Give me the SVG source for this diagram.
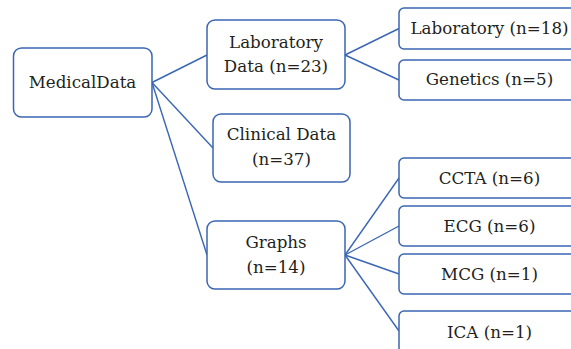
<svg xmlns="http://www.w3.org/2000/svg" width="571" height="349" viewBox="0 0 571 349">
<style>
.box{fill:#fff;stroke:#3a66b3;stroke-width:1.5}
.c{stroke:#3a66b3;stroke-width:1.4;fill:none}
</style>
<rect width="571" height="349" fill="#fff"/>
<g id="connectors">
<line class="c" x1="152" y1="82.5" x2="207" y2="55"/>
<line class="c" x1="152" y1="82.5" x2="213" y2="148"/>
<line class="c" x1="152" y1="82.5" x2="207" y2="255"/>
<line class="c" x1="345" y1="55" x2="399" y2="28.5"/>
<line class="c" x1="345" y1="55" x2="399" y2="80"/>
<line class="c" x1="345" y1="255" x2="399" y2="178"/>
<line class="c" x1="345" y1="255" x2="399" y2="226"/>
<line class="c" x1="345" y1="255" x2="399" y2="274"/>
<line class="c" x1="345" y1="255" x2="399" y2="331"/>
</g>
<g font-family="DejaVu Serif, serif" font-size="16.7" fill="#231f20" text-anchor="middle">
<g id="medicaldata">
<rect class="box" x="13.5" y="48" width="138.5" height="69" rx="8"/>
<text x="82.5" y="88">MedicalData</text>
</g>
<g id="laboratorydata">
<rect class="box" x="207" y="20" width="138" height="69" rx="8"/>
<text x="276" y="48">Laboratory</text>
<text x="276" y="72">Data (n=23)</text>
</g>
<g id="clinicaldata">
<rect class="box" x="213" y="114" width="137" height="68" rx="8"/>
<text x="281.5" y="140">Clinical Data</text>
<text x="281.5" y="165">(n=37)</text>
</g>
<g id="graphs">
<rect class="box" x="207" y="221" width="138" height="68" rx="8"/>
<text x="276" y="248">Graphs</text>
<text x="276" y="273">(n=14)</text>
</g>
<g id="laboratory">
<rect class="box" x="399" y="8" width="182" height="41" rx="5"/>
<text x="489.5" y="34">Laboratory (n=18)</text>
</g>
<g id="genetics">
<rect class="box" x="399" y="60" width="182" height="40" rx="5"/>
<text x="489.5" y="85">Genetics (n=5)</text>
</g>
<g id="ccta">
<rect class="box" x="399" y="158" width="182" height="40" rx="5"/>
<text x="489.5" y="184">CCTA (n=6)</text>
</g>
<g id="ecg">
<rect class="box" x="399" y="206" width="182" height="40" rx="5"/>
<text x="489.5" y="232">ECG (n=6)</text>
</g>
<g id="mcg">
<rect class="box" x="399" y="254" width="182" height="40" rx="5"/>
<text x="489.5" y="280">MCG (n=1)</text>
</g>
<g id="ica">
<rect class="box" x="399" y="311" width="182" height="42" rx="5"/>
<text x="489.5" y="338">ICA (n=1)</text>
</g>
</g>
</svg>
